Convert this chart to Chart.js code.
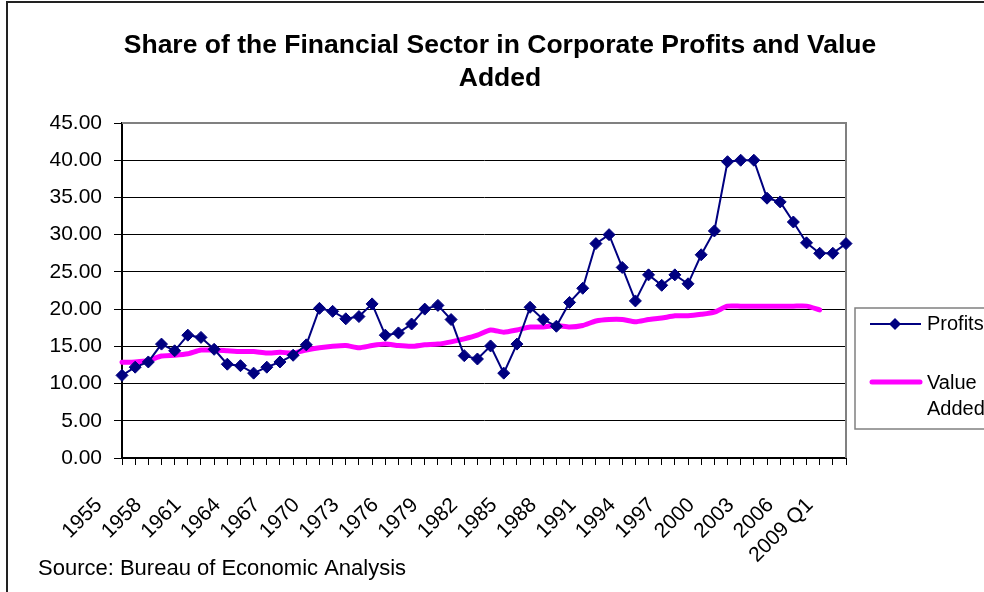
<!DOCTYPE html>
<html>
<head>
<meta charset="utf-8">
<script src="https://cdn.jsdelivr.net/npm/chart.js@4.4.1/dist/chart.umd.min.js"></script>
<style>
  html, body { margin: 0; padding: 0; background: #fff; }
  #wrap { width: 984px; height: 592px; }
</style>
</head>
<body>
<div id="wrap"><canvas id="chart" width="984" height="592"></canvas></div>
<script>
const categories = [
  "1955", "1956", "1957", "1958", "1959", "1960", "1961", "1962", "1963", "1964",
  "1965", "1966", "1967", "1968", "1969", "1970", "1971", "1972", "1973", "1974",
  "1975", "1976", "1977", "1978", "1979", "1980", "1981", "1982", "1983", "1984",
  "1985", "1986", "1987", "1988", "1989", "1990", "1991", "1992", "1993", "1994",
  "1995", "1996", "1997", "1998", "1999", "2000", "2001", "2002", "2003", "2004",
  "2005", "2006", "2007", "2008", "2009 Q1", "2009 Q2",
];
const profits = [
  11.1, 12.2, 12.9, 15.3, 14.4, 16.5, 16.2, 14.6, 12.6, 12.4,
  11.4, 12.2, 12.9, 13.8, 15.2, 20.1, 19.7, 18.7, 19.0, 20.7,
  16.5, 16.8, 18.0, 20.0, 20.5, 18.6, 13.75, 13.3, 15.05, 11.4,
  15.3, 20.25, 18.6, 17.7, 20.9, 22.8, 28.8, 30.0, 25.6, 21.1,
  24.6, 23.2, 24.6, 23.4, 27.3, 30.5, 39.8, 40.0, 40.0, 34.9,
  34.4, 31.7, 28.9, 27.5, 27.5, 28.8,
];
const valueAdded = [
  12.85, 12.9, 13.1, 13.7, 13.8, 14.0, 14.5, 14.5, 14.4, 14.3,
  14.3, 14.1, 14.2, 14.1, 14.5, 14.8, 15.0, 15.1, 14.8, 15.1,
  15.3, 15.1, 15.0, 15.2, 15.3, 15.6, 16.0, 16.5, 17.2, 16.9,
  17.2, 17.6, 17.6, 17.8, 17.6, 17.8, 18.4, 18.6, 18.6, 18.3,
  18.6, 18.8, 19.1, 19.1, 19.3, 19.6, 20.4, 20.4, 20.4, 20.4,
  20.4, 20.4, 20.4, 19.9, null, null,
];
const xTickLabels = [
  "1955", "1958", "1961", "1964", "1967", "1970", "1973", "1976", "1979", "1982",
  "1985", "1988", "1991", "1994", "1997", "2000", "2003", "2006", "2009 Q1",
];
const yTickValues = [0, 5, 10, 15, 20, 25, 30, 35, 40, 45];

const titleLines = ["Share of the Financial Sector in Corporate Profits and Value", "Added"];
const sourceText = "Source: Bureau of Economic Analysis";

const FONT = "'Liberation Sans', Arial, sans-serif";
const NAVY = "#000080";
const MAGENTA = "#ff00ff";

// title, frame, source note and legend box
const decor = {
  id: "decor",
  beforeDraw(chart) {
    const ctx = chart.ctx;
    ctx.save();
    ctx.fillStyle = "#fff";
    ctx.fillRect(0, 0, chart.width, chart.height);
    ctx.restore();
  },
  beforeDatasetsDraw(chart) {
    const { ctx, chartArea: a } = chart;
    ctx.save();
    ctx.strokeStyle = "#808080";
    ctx.lineWidth = 2;
    ctx.beginPath();
    ctx.moveTo(a.left, a.top);
    ctx.lineTo(a.right, a.top);
    ctx.lineTo(a.right, a.bottom);
    ctx.stroke();
    ctx.restore();
  },
  afterDraw(chart) {
    const ctx = chart.ctx;
    ctx.save();
    // outer frame (cut off at right / bottom)
    ctx.strokeStyle = "#222";
    ctx.lineWidth = 2;
    ctx.strokeRect(7, 2, 1200, 800);

    // title
    ctx.fillStyle = "#000";
    ctx.textAlign = "center";
    ctx.textBaseline = "alphabetic";
    ctx.font = "bold 26.5px " + FONT;
    ctx.fillText(titleLines[0], 500, 53);
    ctx.fillText(titleLines[1], 500, 86);

    // source
    ctx.textAlign = "left";
    ctx.font = "22px " + FONT;
    ctx.fillText(sourceText, 38, 575);

    // legend
    ctx.strokeStyle = "#808080";
    ctx.lineWidth = 1.5;
    ctx.strokeRect(855, 308, 200, 121);

    ctx.strokeStyle = NAVY;
    ctx.lineWidth = 2;
    ctx.beginPath();
    ctx.moveTo(870, 324);
    ctx.lineTo(921, 324);
    ctx.stroke();
    ctx.fillStyle = NAVY;
    ctx.beginPath();
    ctx.moveTo(895, 318);
    ctx.lineTo(901, 324);
    ctx.lineTo(895, 330);
    ctx.lineTo(889, 324);
    ctx.closePath();
    ctx.fill();

    ctx.strokeStyle = MAGENTA;
    ctx.lineWidth = 5;
    ctx.lineCap = "round";
    ctx.beginPath();
    ctx.moveTo(872, 382);
    ctx.lineTo(920, 382);
    ctx.stroke();

    ctx.fillStyle = "#000";
    ctx.font = "20px " + FONT;
    ctx.textBaseline = "middle";
    ctx.fillText("Profits", 927, 324);
    ctx.fillText("Value", 927, 383);
    ctx.fillText("Added", 927, 409);
    ctx.restore();
  },
};

const ctx_chart = document.getElementById("chart").getContext("2d");
const chart = new Chart(ctx_chart, {
  type: "line",
  data: {
    labels: categories,
    datasets: [
      {
        label: "Profits",
        data: profits,
        borderColor: NAVY,
        backgroundColor: NAVY,
        borderWidth: 2,
        pointStyle: "rectRot",
        pointRadius: 6,
        pointHoverRadius: 6,
        pointBackgroundColor: NAVY,
        pointBorderColor: NAVY,
        pointBorderWidth: 1,
        tension: 0,
        clip: false,
      },
      {
        label: "Value Added",
        data: valueAdded,
        borderColor: MAGENTA,
        backgroundColor: MAGENTA,
        borderWidth: 5,
        pointRadius: 0,
        borderCapStyle: "round",
        borderJoinStyle: "round",
        tension: 0.2,
        clip: false,
      },
    ],
  },
  options: {
    responsive: false,
    animation: false,
    events: [],
    layout: {
      padding: { top: 123, right: 138, left: 0, bottom: 0 },
    },
    plugins: {
      legend: false, // drawn by hand in decor
      title: { display: false },
      tooltip: { enabled: false },
    },
    scales: {
      x: {
        offset: false,
        afterFit: (scale) => {
          scale.height = 134;
        },
        grid: {
          drawOnChartArea: false,
          drawTicks: true,
          tickLength: 7,
          tickColor: "#000",
        },
        border: { color: "#000", width: 2 },
        ticks: {
          autoSkip: false,
          maxRotation: 45,
          minRotation: 45,
          labelOffset: -23,
          padding: 28,
          color: "#000",
          font: { family: FONT, size: 21 },
          callback: function (val, i) {
            const lab = categories[i];
            return xTickLabels.includes(lab) ? lab : "";
          },
        },
      },
      y: {
        min: 0,
        max: 45,
        afterFit: (scale) => {
          scale.width = 122;
        },
        afterBuildTicks: (scale) => {
          scale.ticks = yTickValues.map((v) => ({ value: v }));
        },
        grid: {
          color: (c) => (c.tick && c.tick.value === 45 ? "#808080" : "#000"),
          lineWidth: 1,
          tickLength: 8,
          tickColor: "#000",
        },
        border: { color: "#000", width: 2 },
        ticks: {
          padding: 12,
          color: "#000",
          font: { family: FONT, size: 21 },
          callback: (v) => Number(v).toFixed(2),
        },
      },
    },
  },
  plugins: [decor],
});
</script>
</body>
</html>
